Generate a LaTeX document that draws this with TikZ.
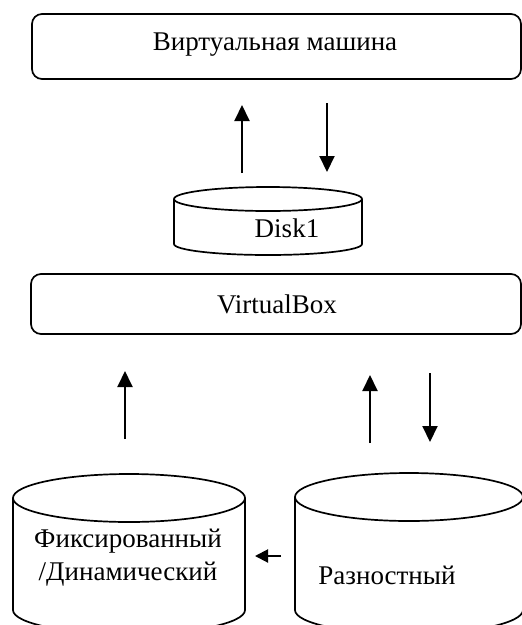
\documentclass[tikz,border=0pt]{standalone}
\usepackage{fontspec}
\setmainfont{Liberation Serif}
\usetikzlibrary{arrows.meta}
\tikzset{
  box/.style={draw, line width=1.7pt, rounded corners=10pt, inner sep=0pt},
  cyl/.style={draw, line width=1.7pt},
  lbl/.style={inner sep=0pt, font=\fontsize{27}{33}\selectfont, align=center},
  arr/.style={line width=2pt, -{Triangle[width=15pt,length=16pt]}}
}
\begin{document}
\begin{tikzpicture}[x=1pt,y=-1pt]
\useasboundingbox (0,0) rectangle (522,625);
\clip (0,0) rectangle (522,625);
% top box
\node[box, minimum width=489pt, minimum height=65pt] (vm) at (276.5,46.5) {};
\node[lbl] (vmt) at (275,45) {Виртуальная машина};
% Disk1 cylinder
\draw[cyl] (268,199) ellipse [x radius=94, y radius=12];
\draw[cyl] (174,199) -- (174,244) arc[start angle=180, end angle=0, x radius=94, y radius=11] -- (362,199);
\node[lbl] (disk) at (287,228) {Disk1};
% VirtualBox box
\node[box, minimum width=490pt, minimum height=60pt] (vb) at (276,304) {};
\node[lbl] (vbt) at (277,304) {VirtualBox};
% bottom left cylinder
\draw[cyl] (129,498) ellipse [x radius=116, y radius=24];
\draw[cyl] (13,498) -- (13,610) arc[start angle=180, end angle=0, x radius=116, y radius=24] -- (245,498);
\node[lbl] (fix) at (128,558) {Фиксированный\\/Динамический};
% bottom right cylinder
\draw[cyl] (409,497) ellipse [x radius=114, y radius=24];
\draw[cyl] (295,497) -- (295,610) arc[start angle=180, end angle=0, x radius=114, y radius=24] -- (523,497);
\node[lbl] (diff) at (387,575) {Разностный};
% arrows
\coordinate (a1s) at (242,173); \coordinate (a1e) at (242,105);
\coordinate (a2s) at (327,103); \coordinate (a2e) at (327,172);
\coordinate (b1s) at (125,439); \coordinate (b1e) at (125,371);
\coordinate (b2s) at (370,443); \coordinate (b2e) at (370,375);
\coordinate (b3s) at (430,373); \coordinate (b3e) at (430,442);
\coordinate (hs) at (281,556); \coordinate (he) at (255,556);
\draw[arr] (a1s) -- (a1e);
\draw[arr] (a2s) -- (a2e);
\draw[arr] (b1s) -- (b1e);
\draw[arr] (b2s) -- (b2e);
\draw[arr] (b3s) -- (b3e);
\draw[line width=2pt, -{Triangle[width=13pt,length=13pt]}] (hs) -- (he);
\end{tikzpicture}
\end{document}
